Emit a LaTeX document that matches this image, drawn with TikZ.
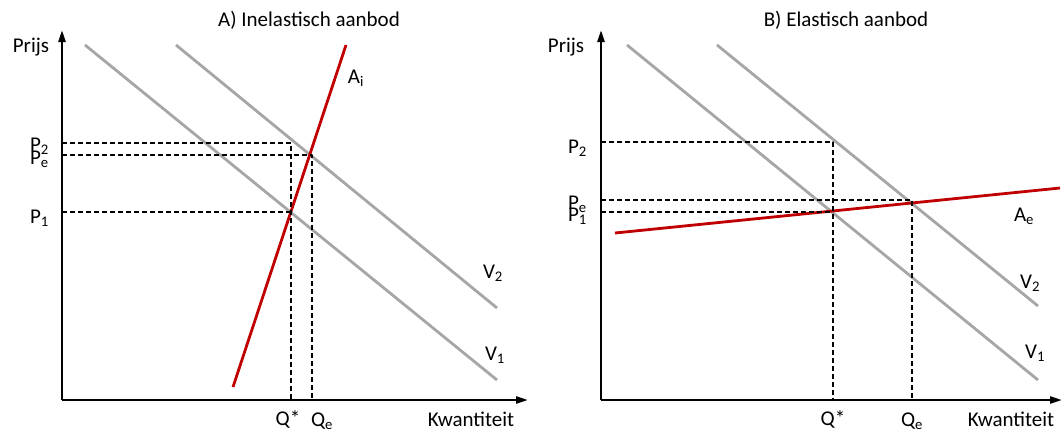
\documentclass[tikz,border=0pt]{standalone}
\usepackage{fontspec}
\setmainfont{Carlito}
\usetikzlibrary{arrows.meta}
\definecolor{vgrey}{HTML}{A6A6A6}
\definecolor{ared}{HTML}{C00000}
\tikzset{
  axis/.style={line width=2.4pt,-{Triangle[length=12pt,width=7pt]}},
  vraag/.style={line width=2.8pt,color=vgrey},
  aanbod/.style={line width=2.8pt,color=ared},
  hulp/.style={line width=1.3pt,dash pattern=on 5pt off 3pt},
  lbl/.style={inner sep=0pt,font=\fontsize{21}{25}\selectfont},
}
\begin{document}
\begin{tikzpicture}[x=1pt,y=-1pt,line join=round]
  \useasboundingbox (0,0) rectangle (1064,434);
  % A) inelastisch
  \coordinate (O1) at (62,400);
  \draw[axis] (O1) -- (62,30);
  \draw[axis] (O1) -- (528,400);
  \node[lbl] (prijs1) at (31,47) {Prijs};
  \node[lbl] (kw1) at (471,419) {Kwantiteit};
  \node[lbl] (titel1) at (309,20) {A) Inelastisch aanbod};
  \draw[vraag] (85,45) coordinate (v1a) -- (497,380) coordinate (v1b);
  \draw[vraag] (176,45) coordinate (v2a) -- (497,308) coordinate (v2b);
  \draw[aanbod] (233,387) coordinate (aia) -- (346,45) coordinate (aib);
  \node[lbl] (v1l) at (495,355) {V\textsubscript{1}};
  \node[lbl] (v2l) at (493,273) {V\textsubscript{2}};
  \node[lbl] (ail) at (356,78) {A\textsubscript{i}};
  \coordinate (s2) at (291,143);
  \coordinate (se) at (312,155);
  \coordinate (s1) at (291,212);
  \draw[hulp] (O1 |- s2) -- (s2) -- (s2 |- O1);
  \draw[hulp] (O1 |- se) -- (se) -- (se |- O1);
  \draw[hulp] (O1 |- s1) -- (s1);
  \node[lbl,anchor=east] (p2l) at (49,146) {P\textsubscript{2}};
  \node[lbl,anchor=east] (pel) at (49,159) {P\textsubscript{e}};
  \node[lbl,anchor=east] (p1l) at (49,218) {P\textsubscript{1}};
  \node[lbl] (qsl) at (288,419) {Q*};
  \node[lbl] (qel) at (322,421) {Q\textsubscript{e}};
  % B) elastisch
  \coordinate (O2) at (601,400);
  \draw[axis] (O2) -- (601,30);
  \draw[axis] (O2) -- (1062,400);
  \node[lbl] (prijs2) at (566,47) {Prijs};
  \node[lbl] (kw2) at (1011,419) {Kwantiteit};
  \node[lbl] (titel2) at (846,20) {B) Elastisch aanbod};
  \draw[vraag] (627,45) coordinate (w1a) -- (1038,380) coordinate (w1b);
  \draw[vraag] (717,45) coordinate (w2a) -- (1038,306) coordinate (w2b);
  \draw[aanbod] (615,233) coordinate (aea) -- (1060,188) coordinate (aeb);
  \node[lbl] (w1l) at (1035,353) {V\textsubscript{1}};
  \node[lbl] (w2l) at (1030,283) {V\textsubscript{2}};
  \node[lbl] (ael) at (1024,216) {A\textsubscript{e}};
  \coordinate (t2) at (833,142);
  \coordinate (te) at (912,200);
  \coordinate (t1) at (833,212);
  \draw[hulp] (O2 |- t2) -- (t2) -- (t2 |- O2);
  \draw[hulp] (O2 |- te) -- (te) -- (te |- O2);
  \draw[hulp] (O2 |- t1) -- (t1);
  \node[lbl,anchor=east] (q2l) at (587,148) {P\textsubscript{2}};
  \node[lbl,anchor=east] (qel2) at (587,204) {P\textsubscript{e}};
  \node[lbl,anchor=east] (q1l) at (587,216) {P\textsubscript{1}};
  \node[lbl] (rsl) at (833,419) {Q*};
  \node[lbl] (rel) at (912,421) {Q\textsubscript{e}};
\end{tikzpicture}
\end{document}
